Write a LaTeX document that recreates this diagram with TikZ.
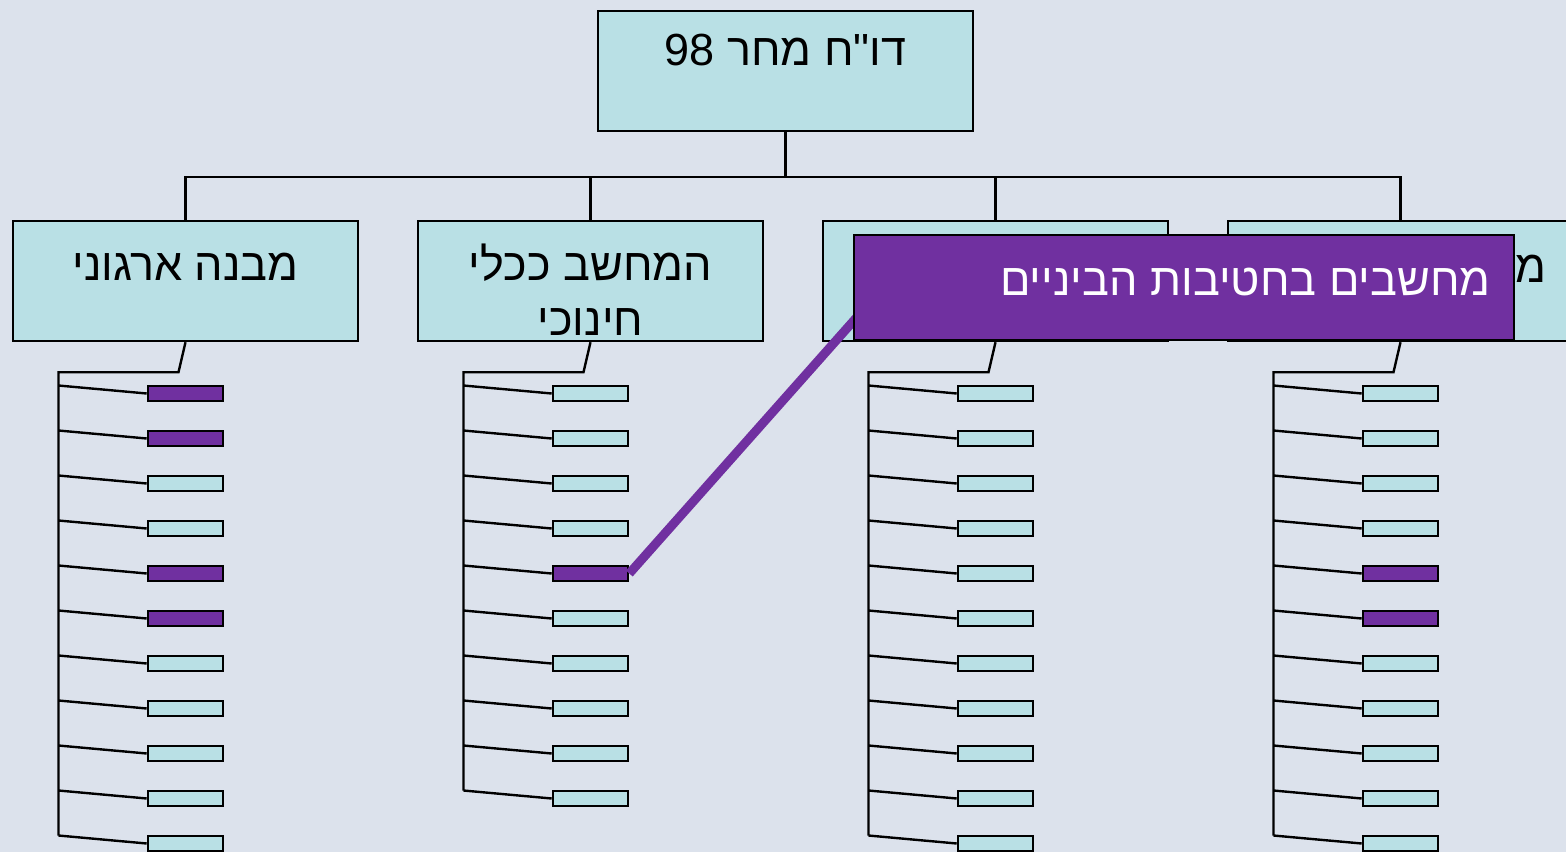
\documentclass[tikz,border=0pt]{standalone}
\usepackage{fontspec}
\newfontfamily\hebfont[Script=Hebrew]{Liberation Sans}
\TeXXeTstate=1
\usetikzlibrary{
    positioning,
    calc
}
\definecolor{chart cyan}{RGB}{185,224,229}
\definecolor{chart purple}{RGB}{112,48,160}
\definecolor{slide back}{RGB}{220,226,236}
\tikzset{
    % Colors
    box color/.style={fill=chart cyan},
    marked/.style={fill=chart purple},
    background/.style={fill=slide back},
    %
    % Boxes
    chart box/.style={draw=black,line width=2.4pt,box color,inner sep=0pt,minimum width=345,minimum height=120},
    leaf/.style={draw=black,line width=2.6pt,box color,inner sep=0pt,minimum width=75,minimum height=15},
    chart text/.style={inner sep=0pt,align=center,font=\hebfont\fontsize{45}{55}\selectfont},
    note/.style={draw=black,line width=2.4pt,marked,inner sep=0pt,minimum width=660,minimum height=105},
    %
    % Lines
    link/.style={line width=2.4pt},
    pointer/.style={line width=9pt,draw=chart purple},
    %
    % Highlighted leaves
    leaf 1-1/.style={marked},
    leaf 1-2/.style={marked},
    leaf 1-5/.style={marked},
    leaf 1-6/.style={marked},
    leaf 2-5/.style={marked},
    leaf 4-5/.style={marked},
    leaf 4-6/.style={marked}
}

\begin{document}
\begin{tikzpicture}[x=1pt,y=-1pt]
    \useasboundingbox (0,0) rectangle (1566,852);
    \fill[background] (0,0) rectangle (1566,852);
    % top box
    \node[chart box,minimum width=375] (root) at (785.5,71) {};
    \node[chart text,anchor=base] (root text) at ([yshift=-56]root.north) {\beginR דו"ח מחר \beginL 98\endL\endR};
    % sections
    \foreach \c in {1,...,4}
        \node[chart box] (sec\c) at (185.5+405*\c-405,281) {};
    \node[chart text,anchor=base] (sec1 text) at ([yshift=-61]sec1.north) {\beginR מבנה ארגוני\endR};
    \node[chart text,anchor=base] (sec2 text) at ([yshift=-116]sec2.north) {\beginR המחשב ככלי\endR\\\beginR חינוכי\endR};
    \node[chart text,anchor=base east] (sec4 text) at (1547,282) {\beginR מ\endR};
    % bus
    \draw[link] (root.south) -- ++(0,45) coordinate (bus);
    \draw[link] (sec1.north) |- (bus) -| (sec4.north);
    \draw[link] (sec2.north) -- (sec2.north |- bus);
    \draw[link] (sec3.north) -- (sec3.north |- bus);
    % leaves
    \foreach \c/\n in {1/11,2/10,3/11,4/11} {
        \foreach \j in {1,...,\n}
            \node[leaf,leaf \c-\j/.try] (leaf-\c-\j) at (185.5+405*\c-405,393.5+45*\j-45) {};
        \draw[link] (sec\c.south) -- ++(-7,30) coordinate (knee\c) -- ++(-120,0) coordinate (spine\c)
            -- ($(leaf-\c-\n.west -| spine\c)+(0,-8)$);
        \foreach \j in {1,...,\n}
            \draw[link] ($(leaf-\c-\j.west -| spine\c)+(0,-8)$) -- (leaf-\c-\j.west);
    }
    % callout
    \coordinate (note corner) at (853,341);
    \draw[pointer] (leaf-2-5.east) -- ($(note corner)+(4,-24)$);
    \node[note,anchor=south west] (note) at (note corner) {};
    \node[chart text,anchor=base east,text=white] (note text) at (1491,295) {\beginR מחשבים בחטיבות הביניים\endR};
\end{tikzpicture}
\end{document}
